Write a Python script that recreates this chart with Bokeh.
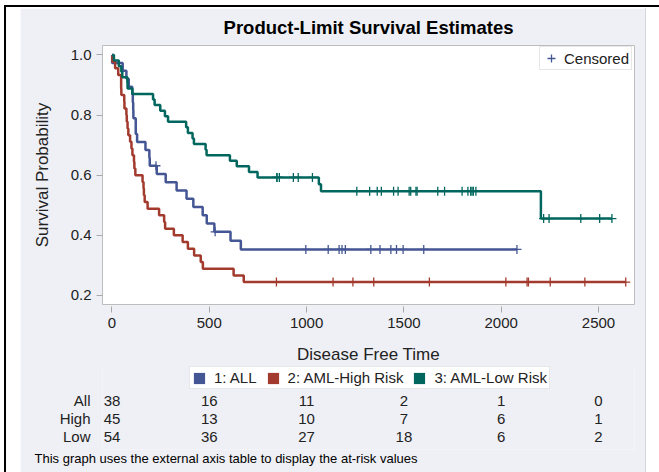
from bokeh.plotting import figure
from bokeh.layouts import column
from bokeh.models import (FixedTicker, PrintfTickFormatter, Legend,
                          LegendItem, Range1d, Title)
from bokeh.core.properties import value
from bokeh.embed import file_html
from bokeh.resources import INLINE

# ---------------- data: disease-free time (days) per risk group ----------------
group_names = ["1: ALL", "2: AML-High Risk", "3: AML-Low Risk"]

all_event = [418, 383, 276, 104, 609, 172, 487, 662, 194, 230, 526, 122, 129,
             74, 122, 86, 466, 192, 109, 55, 1, 107, 110, 332]
all_censor = [2081, 1602, 1496, 1462, 1433, 1377, 1330, 996, 226, 1199, 1111,
              530, 1182, 1167]

high_event = [422, 162, 84, 100, 2, 47, 242, 456, 268, 318, 32, 467, 47, 390,
              183, 105, 115, 164, 93, 120, 80, 677, 64, 168, 74, 16, 157, 625,
              48, 273, 63, 76, 113, 363]
high_censor = [2640, 2430, 2252, 2140, 2133, 1238, 1631, 2024, 1345, 1136, 845]

low_event = [414, 2204, 1063, 481, 105, 641, 390, 288, 421, 79, 748, 486, 48,
             272, 1074, 381, 10, 53, 80, 35, 248, 704, 211, 219, 606]
low_censor = [2569, 2506, 2409, 2218, 1857, 1829, 1562, 1470, 1363, 1030, 860,
              1258, 2246, 1870, 1799, 1709, 1674, 1568, 1527, 1324, 957, 932,
              847, 848, 1850, 1843, 1535, 1447, 1384]

risk_times = [0, 500, 1000, 1500, 2000, 2500]
risk_labels = ["All", "High", "Low"]
risk_all = [38, 16, 11, 2, 1, 0]
risk_high = [45, 13, 10, 7, 6, 1]
risk_low = [54, 36, 27, 18, 6, 2]

x_ticks = [0, 500, 1000, 1500, 2000, 2500]
y_ticks = [0.2, 0.4, 0.6, 0.8, 1.0]

title_text = "Product-Limit Survival Estimates"
x_label = "Disease Free Time"
y_label = "Survival Probability"
footnote = "This graph uses the external axis table to display the at-risk values"

# ---------------- styling ----------------
FONT = "Liberation Sans"
COLORS = ["#445694", "#A23A2E", "#01665E"]
BG = "#EFF0F5"
TXT = "#222222"


def product_limit(events, censors):
    """Kaplan-Meier product-limit estimate: step coordinates + censor marks."""
    everyone = events + censors
    xs, ys = [0.0], [1.0]
    s = 1.0
    for t in sorted(set(events)):
        d = events.count(t)
        n = sum(1 for v in everyone if v >= t)
        s *= 1.0 - d / n
        xs.append(t)
        ys.append(s)
    xs.append(max(everyone))
    ys.append(s)

    def s_at(c):
        val = 1.0
        for t, v in zip(xs[1:-1], ys[1:-1]):
            if t <= c:
                val = v
        return val

    cy = [s_at(c) for c in censors]
    return xs, ys, list(censors), cy


# ---------------- geometry (page pixels) ----------------
W = 625
H1 = 358                      # main plot
H2 = 107                      # legend + at-risk table
FL, FR, FT = 82, 11, 37
F_W, F_H = W - FL - FR, 259
FB = H1 - FT - F_H
PX0, PY0 = 20, 8
F_LEFT, F_TOP = PX0 + FL, PY0 + FT
T_TOP = PY0 + H1 - 1          # page y of the table figure's top
T_FH = 84                     # table frame height
X0, X1 = -48.8, 2685.0
Y0, Y1 = 0.170, 1.0316

# ---------------- main plot ----------------
p = figure(width=W, height=H1, x_range=Range1d(X0, X1), y_range=Range1d(Y0, Y1),
           output_backend="svg", toolbar_location=None,
           min_border_left=FL, min_border_right=FR,
           min_border_top=FT, min_border_bottom=FB,
           title=title_text)
p.margin = (PY0, 0, 0, PX0)
p.styles = {"box-shadow": "1px 0 0 0 #D6D7DC, 46px 59px 0 60px #ffffff, "
                          "44px 57px 0 60px #000000"}
p.background_fill_color = "white"
p.border_fill_color = BG
p.outline_line_color = "#BDBDBD"
p.outline_line_width = 1
p.grid.visible = False

p.title.text_font = FONT
p.title.text_font_size = "18.5px"
p.title.text_font_style = "bold"
p.title.text_color = "black"
p.title.align = "center"
p.title.vertical_align = "top"
p.title.standoff = 12

p.xaxis.ticker = FixedTicker(ticks=x_ticks)
p.yaxis.ticker = FixedTicker(ticks=y_ticks)
p.yaxis.formatter = PrintfTickFormatter(format="%.1f")
for ax in (p.xaxis[0], p.yaxis[0]):
    ax.axis_line_color = None
    ax.minor_tick_line_color = None
    ax.major_tick_line_color = "#A8A8A8"
    ax.major_label_text_font = FONT
    ax.major_label_text_font_size = "15px"
    ax.major_label_text_color = TXT
    ax.axis_label_text_font = FONT
    ax.axis_label_text_font_size = "17px"
    ax.axis_label_text_font_style = "normal"
    ax.axis_label_text_color = TXT
p.xaxis.major_tick_in = -2
p.xaxis.major_tick_out = 8
p.xaxis.major_label_standoff = 5
p.xaxis.axis_label = x_label
p.xaxis.axis_label_standoff = 14
p.yaxis.major_tick_in = 0
p.yaxis.major_tick_out = 6
p.yaxis.major_label_standoff = 5
p.yaxis.axis_label = y_label
p.yaxis.axis_label_standoff = 16

series = [(all_event, all_censor), (high_event, high_censor), (low_event, low_censor)]
censor_renderers = []
for (ev, ce), col in zip(series, COLORS):
    xs, ys, cx, cy = product_limit(ev, ce)
    p.step(xs, ys, mode="after", line_color=col, line_width=2.5)
    r = p.scatter(cx, cy, marker="cross", size=9, line_color=col, line_width=1.3)
    censor_renderers.append(r)

cens_leg = Legend(items=[LegendItem(label="Censored", renderers=[censor_renderers[0]])],
                  location=(539 - F_LEFT, (F_TOP + F_H) - 70),
                  glyph_width=20, glyph_height=20, padding=1, label_standoff=3,
                  label_width=66, label_height=17,
                  label_text_font=FONT, label_text_font_size="15px",
                  label_text_color=TXT, border_line_color="#CFCFCF",
                  background_fill_color="white", background_fill_alpha=1.0,
                  margin=0)
p.add_layout(cens_leg, "center")

# ---------------- legend + at-risk table (shares the time axis) ----------------
row_py = [400 - T_TOP, 418 - T_TOP, 436 - T_TOP]

t = figure(width=W, height=H2, x_range=p.x_range, y_range=Range1d(T_FH, 0),
           output_backend="svg", toolbar_location=None,
           x_axis_location=None, y_axis_location="left",
           min_border_left=FL, min_border_right=FR, min_border_top=0,
           min_border_bottom=H2 - T_FH)
t.margin = (-1, 0, 0, PX0)
t.styles = {"box-shadow": "1px 0 0 0 #D6D7DC"}
t.grid.visible = False
t.outline_line_color = None
t.background_fill_color = BG
t.border_fill_color = BG

t.yaxis.ticker = FixedTicker(ticks=row_py)
t.yaxis.major_label_overrides = {py: lab for py, lab in zip(row_py, risk_labels)}
t.yaxis.axis_line_color = None
t.yaxis.major_tick_line_color = None
t.yaxis.minor_tick_line_color = None
t.yaxis.major_tick_in = 0
t.yaxis.major_tick_out = 0
t.yaxis.major_label_standoff = 12
t.yaxis.major_label_text_font = FONT
t.yaxis.major_label_text_font_size = "15px"
t.yaxis.major_label_text_color = TXT

swatches = [t.quad(left=[0], right=[0], top=[0], bottom=[0], fill_color=c,
                   line_color=None, visible=False) for c in COLORS]
grp_leg = Legend(items=[LegendItem(label=n, renderers=[s]) for n, s in zip(group_names, swatches)],
                 orientation="horizontal",
                 location=(189 - F_LEFT, T_FH - (389 - T_TOP)),
                 glyph_width=14, glyph_height=14, padding=2, label_standoff=8,
                 spacing=9, label_height=17,
                 label_text_font=FONT, label_text_font_size="15px",
                 label_text_color=TXT, border_line_color="#CFCFCF",
                 background_fill_color="white", background_fill_alpha=1.0,
                 margin=0)
t.add_layout(grp_leg, "center")

for vals, py in zip([risk_all, risk_high, risk_low], row_py):
    t.text(x=risk_times, y=[py] * len(risk_times), text=[str(v) for v in vals],
           text_align="center", text_baseline="middle", text_font=value(FONT),
           text_font_size="15px", text_color=TXT)

t.add_layout(Title(text=footnote, align="left", offset=34 - F_LEFT,
                   vertical_align="top", standoff=3, text_font=FONT,
                   text_font_size="13px", text_font_style="normal",
                   text_color="black"), "below")

layout = column(p, t, spacing=0)
open("out.html", "w").write(file_html(layout, INLINE))
